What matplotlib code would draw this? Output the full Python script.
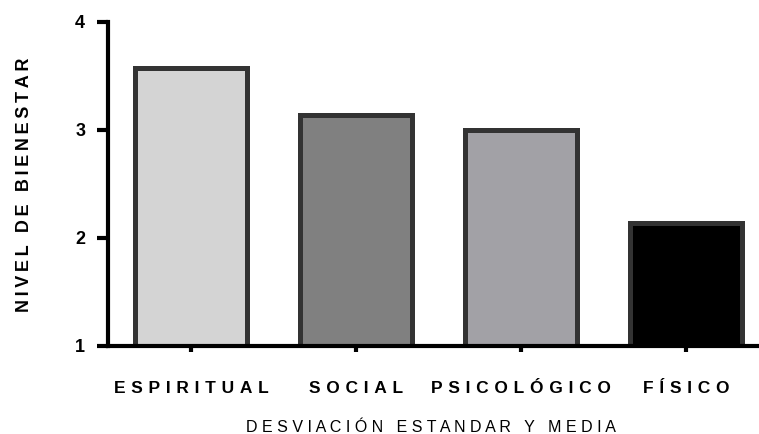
import matplotlib
matplotlib.use("Agg")
import matplotlib.pyplot as plt

plt.rcParams['font.family'] = ['Liberation Sans', 'DejaVu Sans']

# datos
categorias = ['ESPIRITUAL', 'SOCIAL', 'PSICOLÓGICO', 'FÍSICO']
valores = [3.57, 3.14, 3.00, 2.14]
colores = ['#d4d4d4', '#808080', '#a2a1a6', '#000000']
yticks = [1, 2, 3, 4]


# espaciado entre letras
def espaciar(texto, sep):
    return sep.join(texto)


fig = plt.figure(figsize=(7.59, 4.34), dpi=100)
ax = fig.add_axes([108 / 759, 1 - 345.7 / 434, 651 / 759, 324 / 434])

x = range(len(categorias))
ax.bar(x, valores, width=0.68, color=colores, edgecolor='#333333',
       linewidth=3.6, joinstyle='miter')

ax.set_ylim(1, 4)
ax.set_xlim(-0.502, 3.44)
ax.set_yticks(yticks)
ax.set_yticklabels([str(v) for v in yticks], fontsize=13, fontweight='bold')
ax.set_xticks(list(x))
ax.set_xticklabels([espaciar(c, '\u2004') for c in categorias],
                   fontsize=12.5, fontweight='bold', va='baseline')

for s in ['top', 'right']:
    ax.spines[s].set_visible(False)
for s in ['left', 'bottom']:
    ax.spines[s].set_linewidth(3)
    ax.spines[s].set_color('black')

ax.tick_params(axis='y', length=8, width=3, pad=8.4)
ax.tick_params(axis='x', length=4.3, width=3, pad=30)

# etiquetas de los ejes
fig.text(24.5 / 759, 1 - 185 / 434,
         '\u2009 \u2009'.join(espaciar(p, '\u2009') for p in 'NIVEL DE BIENESTAR'.split()),
         rotation=90, ha='center', va='center', fontsize=13, fontweight='bold')
fig.text(431 / 759, 1 - 432 / 434,
         '   '.join(espaciar(p, ' ') for p in 'DESVIACIÓN ESTANDAR Y MEDIA'.split()),
         ha='center', va='baseline', fontsize=11.5)

fig.savefig('out.png', dpi=100)
